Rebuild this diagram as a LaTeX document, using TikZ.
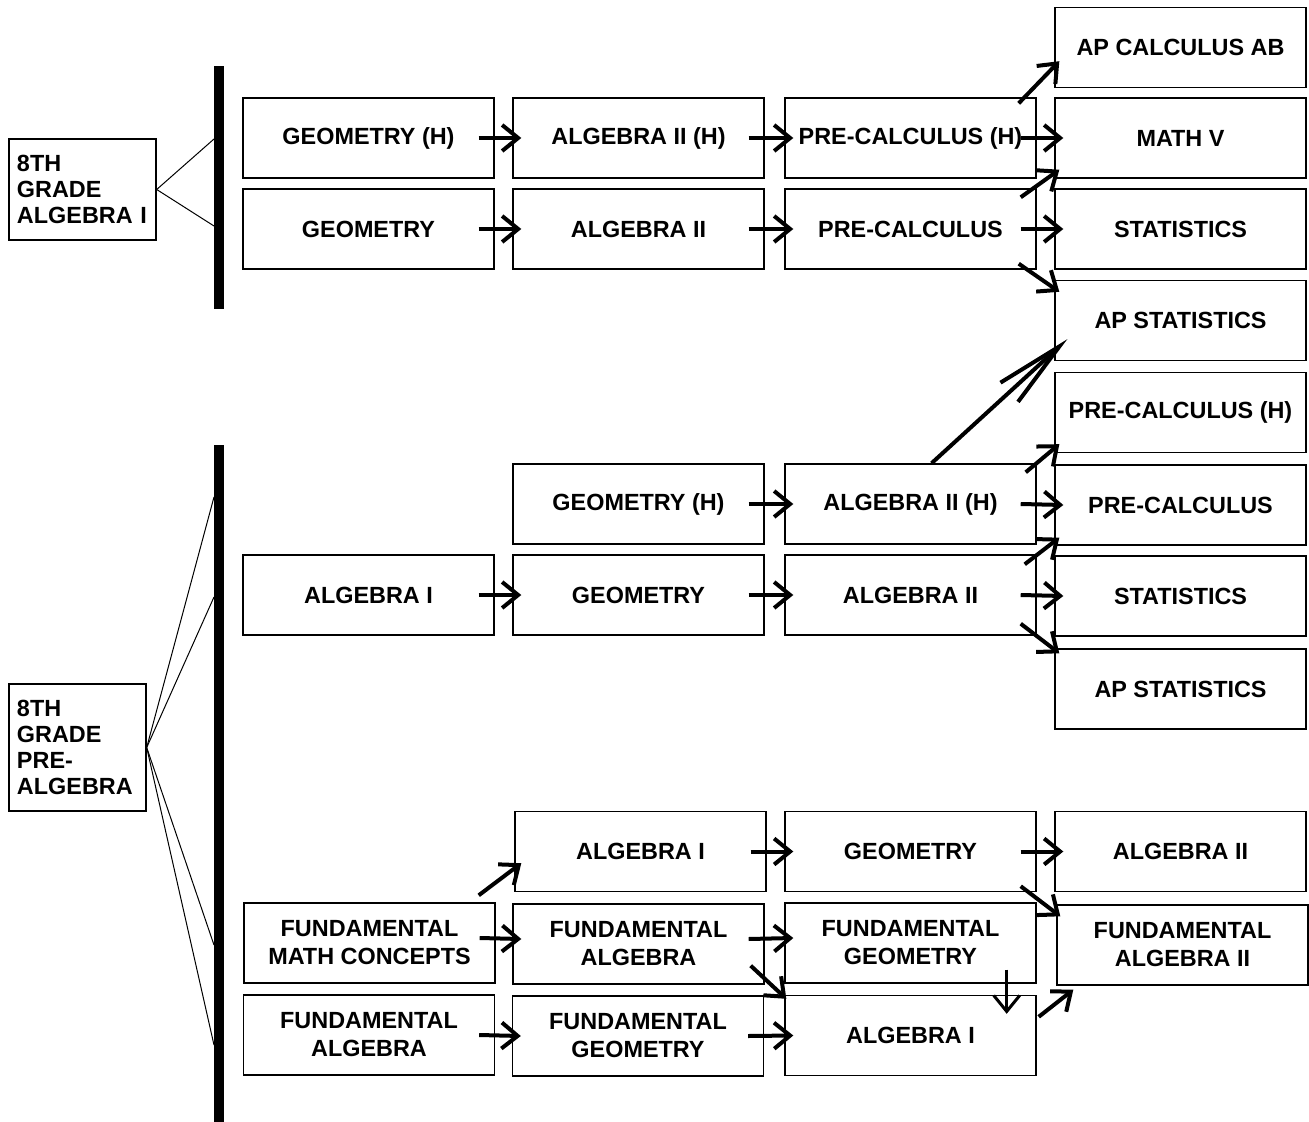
\documentclass[tikz,border=0pt]{standalone}
\usepackage{fontspec}
\setsansfont{Liberation Sans}
\usetikzlibrary{arrows.meta}
\tikzset{
	course/.style={draw,line width=.7pt,minimum width=125.5pt,minimum height=40pt,inner sep=0pt,align=center},
	grade/.style={draw,line width=.7pt,align=left,inner xsep=4pt,inner ysep=0pt,font=\sffamily\bfseries\fontsize{11.7}{13}\selectfont},
	fan/.style={line width=.5pt},
	thinarrow/.style={line width=1.5pt,-{Straight Barb[length=8pt,width=13pt]}},
	longarrow/.style={-{Straight Barb[length=34pt,width=13pt]}}
}
\begin{document}
\begin{tikzpicture}[x=.5pt,y=-.5pt,>={Straight Barb[length=8pt,width=13pt]},font=\sffamily\bfseries\fontsize{11.7}{14}\selectfont,line width=2pt]
	\useasboundingbox (0,0) rectangle (1309,1122);
	% bars
	\fill (214,66) rectangle (224,309);
	\fill (214,445) rectangle (224,1122);
	\foreach \y [count=\i] in {139,226}
	\coordinate (barA\i) at (214,\y);
	\foreach \y [count=\i] in {497,597,945,1045}
	\coordinate (barB\i) at (214,\y);
	% 8th grade algebra I
	\node [grade,text width=65.5pt,minimum height=50.5pt] (alg8) at (82.5,189.5) {8TH\\GRADE\\ALGEBRA I};
	\foreach \i in {1,2}
	\draw [fan] (alg8.east) -- (barA\i);
	\node [course] (geoHa) at (368.5,138) {GEOMETRY (H)};
	\node [course] (algIIHa) at (638.5,138) {ALGEBRA II (H)};
	\node [course] (precalcHa) at (910.5,138) {PRE-CALCULUS (H)};
	\node [course] (geoa) at (368.5,229) {GEOMETRY};
	\node [course] (algIIa) at (638.5,229) {ALGEBRA II};
	\node [course] (precalca) at (910.5,229) {PRE-CALCULUS};
	\node [course] (apcalc) at (1180.5,47.5) {AP CALCULUS AB};
	\node [course] (mathv) at (1180.5,138) {MATH V};
	\node [course] (stata) at (1180.5,229) {STATISTICS};
	\node [course] (apstata) at (1180.5,320.5) {AP STATISTICS};
	% 8th grade pre-algebra
	\node [grade,text width=60.5pt,minimum height=63.5pt] (pre8) at (77.5,747.5) {8TH\\GRADE\\PRE-\\ALGEBRA};
	\foreach \i in {1,...,4}
	\draw [fan] (pre8.east) -- (barB\i);
	\node [course] (geoHb) at (638.5,504) {GEOMETRY (H)};
	\node [course] (algIIHb) at (910.5,504) {ALGEBRA II (H)};
	\node [course] (algIb) at (368.5,595) {ALGEBRA I};
	\node [course] (geob) at (638.5,595) {GEOMETRY};
	\node [course] (algIIb) at (910.5,595) {ALGEBRA II};
	\node [course] (precalcHb) at (1180.5,412.5) {PRE-CALCULUS (H)};
	\node [course] (precalcb) at (1180.5,505) {PRE-CALCULUS};
	\node [course] (statb) at (1180.5,596) {STATISTICS};
	\node [course] (apstatb) at (1180.5,689) {AP STATISTICS};
	% fundamental track
	\node [course] (algIc) at (640.5,851.5) {ALGEBRA I};
	\node [course] (geoc) at (910.5,851.5) {GEOMETRY};
	\node [course] (algIIc) at (1180.5,851.5) {ALGEBRA II};
	\node [course] (fmc) at (369.5,943) {FUNDAMENTAL\\MATH CONCEPTS};
	\node [course] (falg) at (638.5,944) {FUNDAMENTAL\\ALGEBRA};
	\node [course] (fgeo) at (910.5,943) {FUNDAMENTAL\\GEOMETRY};
	\node [course] (falgII) at (1182.5,945) {FUNDAMENTAL\\ALGEBRA II};
	\node [course] (falgd) at (369,1035) {FUNDAMENTAL\\ALGEBRA};
	\node [course] (fgeod) at (638,1036) {FUNDAMENTAL\\GEOMETRY};
	\node [course] (algId) at (910.5,1035.5) {ALGEBRA I};
	% arrows
	\foreach \a/\b in {geoHa/algIIHa,algIIHa/precalcHa,precalcHa/mathv,geoa/algIIa,algIIa/precalca,precalca/stata,
		geoHb/algIIHb,algIIHb/precalcb,algIb/geob,geob/algIIb,algIIb/statb,
		algIc/geoc,geoc/algIIc,falgd/fgeod,fgeod/algId}
	\draw [->] ([shift={(-16,0)}]\a.east) -- ([shift={(9,0)}]\b.west);
	\foreach \a/\b in {fmc/falg,falg/fgeo}
	\draw [->] ([shift={(-16,-5)}]\a.east) -- ([shift={(9,-5)}]\b.west);
	\draw [->] ([shift={(-18,6)}]precalcHa.north east) -- ([shift={(5,-27)}]apcalc.south west);
	\draw [->] ([shift={(-16,9)}]precalca.north east) -- ([shift={(5,-9)}]mathv.south west);
	\draw [->] ([shift={(-18,-6)}]precalca.south east) -- ([shift={(5,12)}]apstata.north west);
	\draw [longarrow] ([shift={(21,0)}]algIIHb.north) -- ([shift={(13,-22)}]apstata.south west);
	\draw [->] ([shift={(-11,9)}]algIIHb.north east) -- ([shift={(5,-9)}]precalcHb.south west);
	\draw [->] ([shift={(-12,10)}]algIIb.north east) -- ([shift={(5,-8)}]precalcb.south west);
	\draw [->] ([shift={(-16,-12)}]algIIb.south east) -- ([shift={(5,5)}]apstatb.north west);
	\draw [->] ([shift={(-17,-7)}]fmc.north east) -- ([shift={(7,-29)}]algIc.south west);
	\draw [->] ([shift={(-14,-19)}]falg.south east) -- ([shift={(2,4)}]algId.north west);
	\draw [->] ([shift={(-16,-6)}]geoc.south east) -- ([shift={(4,12)}]falgII.north west);
	\draw [->] ([shift={(2,22)}]algId.north east) -- ([shift={(17,4)}]falgII.south west);
	\draw [thinarrow] ([shift={(-30,-14)}]fgeo.south east) -- ([shift={(-30,19)}]algId.north east);
\end{tikzpicture}
\end{document}
